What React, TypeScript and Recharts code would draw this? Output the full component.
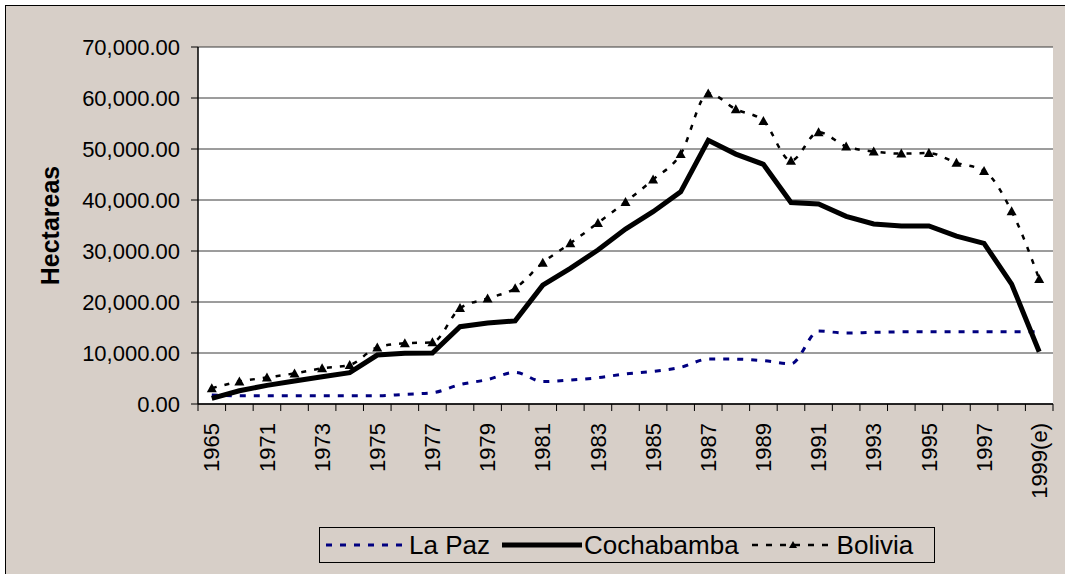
import { LineChart, Line, XAxis, YAxis, CartesianGrid } from "recharts"

const years = [
  "1965", "1970", "1971", "1972", "1973", "1974", "1975", "1976", "1977", "1978",
  "1979", "1980", "1981", "1982", "1983", "1984", "1985", "1986", "1987", "1988",
  "1989", "1990", "1991", "1992", "1993", "1994", "1995", "1996", "1997", "1998",
  "1999(e)",
]

const laPaz = [
  1760, 1600, 1600, 1600, 1600, 1600, 1600, 1900, 2200, 3800,
  4800, 6200, 4400, 4700, 5150, 5900, 6400, 7200, 8800, 8800,
  8500, 7900, 14300, 13900, 14050, 14150, 14150, 14150, 14150, 14150,
  14150,
]

const cochabamba = [
  1100, 2600, 3650, 4500, 5350, 6150, 9600, 9950, 10000, 15150,
  15900, 16300, 23300, 26600, 30200, 34300, 37700, 41600, 51700, 49000,
  47000, 39500, 39200, 36800, 35300, 34900, 34900, 32900, 31500, 23500,
  10250,
]

const bolivia = [
  3100, 4400, 5200, 6000, 7000, 7650, 11100, 11900, 12100, 18800,
  20700, 22700, 27700, 31500, 35500, 39600, 44000, 49000, 60900, 57800,
  55500, 47700, 53300, 50500, 49500, 49100, 49200, 47300, 45700, 37800,
  24500,
]

const yTicks = [0, 10000, 20000, 30000, 40000, 50000, 60000, 70000]

const chartData = years.map((year, i) => ({
  year,
  laPaz: laPaz[i],
  cochabamba: cochabamba[i],
  bolivia: bolivia[i],
}))

const FONT = '"Liberation Sans", Arial, Helvetica, sans-serif'
const BG = "#d7cfc8"
const W = 1065
const H = 574
const MARGIN = { top: 47, right: 12, bottom: 70, left: 48 }
const Y_AXIS_W = 150
const X_AXIS_H = 100
const PLOT_W = W - MARGIN.left - Y_AXIS_W - MARGIN.right
// half a category step, ticks sit between categories like in Excel
const HALF = PLOT_W / years.length / 2

const formatValue = (v: number) =>
  v.toLocaleString("en-US", { minimumFractionDigits: 2, maximumFractionDigits: 2 })

function YearTick(props: any) {
  const { x, y, payload, index } = props
  const last = index === years.length - 1
  const ty = y + 19
  return (
    <g>
      <line x1={x - HALF} x2={x - HALF} y1={y} y2={y + 7} stroke="#000" />
      {last && <line x1={x + HALF} x2={x + HALF} y1={y} y2={y + 7} stroke="#000" />}
      {index % 2 === 0 && (
        <text
          x={x}
          y={ty}
          transform={`rotate(-90, ${x}, ${ty})`}
          textAnchor="end"
          dy="0.35em"
          fontSize={22}
          fontFamily={FONT}
          fill="#000"
        >
          {payload.value}
        </text>
      )}
    </g>
  )
}

function TriangleDot(props: any) {
  const { cx, cy } = props
  if (cx == null || cy == null) return null
  return <path d={`M${cx},${cy - 5} L${cx + 5},${cy + 4} L${cx - 5},${cy + 4} Z`} fill="#000" stroke="none" />
}

function YTitle(props: any) {
  const vb = props.viewBox || { x: 48, y: 47, height: 357 }
  const x = vb.x + 2
  const y = vb.y + vb.height / 2
  return (
    <text
      x={x}
      y={y}
      transform={`rotate(-90, ${x}, ${y})`}
      textAnchor="middle"
      dy="0.35em"
      fontSize={25}
      fontWeight="bold"
      fontFamily={FONT}
      fill="#000"
    >
      Hectareas
    </text>
  )
}

function LegendBox() {
  const item = { display: "flex", alignItems: "center" } as const
  return (
    <div
      style={{
        position: "absolute",
        left: 319,
        top: 527,
        width: 609,
        height: 34,
        border: "1px solid #000",
        background: BG,
        display: "flex",
        alignItems: "center",
        paddingLeft: 5,
        fontFamily: FONT,
        fontSize: 26,
        color: "#000",
        boxSizing: "content-box",
      }}
    >
      <div style={item}>
        <svg width={80} height={20}>
          <line x1={1} x2={80} y1={10} y2={10} stroke="#000080" strokeWidth={3} strokeDasharray="6 8" />
        </svg>
        <span style={{ marginLeft: 4 }}>La Paz</span>
      </div>
      <div style={{ ...item, marginLeft: 12 }}>
        <svg width={80} height={20}>
          <line x1={0} x2={80} y1={10} y2={10} stroke="#000" strokeWidth={5} />
        </svg>
        <span style={{ marginLeft: 2 }}>Cochabamba</span>
      </div>
      <div style={{ ...item, marginLeft: 12 }}>
        <svg width={84} height={20}>
          <line x1={1} x2={84} y1={10} y2={10} stroke="#000" strokeWidth={2.5} strokeDasharray="6 8" />
          <path d="M42,6 L46,13 L38,13 Z" fill="#000" />
        </svg>
        <span style={{ marginLeft: 2 }}>Bolivia</span>
      </div>
    </div>
  )
}

export default function App() {
  return (
    <div style={{ position: "absolute", left: 0, top: 0, width: W, height: H, background: "#fff", overflow: "hidden" }}>
      <div
        style={{
          position: "absolute",
          left: 5,
          top: 5,
          width: W,
          height: H,
          background: BG,
          borderLeft: "1px solid #000",
          borderTop: "1px solid #000",
        }}
      />
      <div style={{ position: "absolute", left: 0, top: 0 }}>
        <LineChart width={W} height={H} data={chartData} margin={MARGIN}>
          <CartesianGrid vertical={false} stroke="#3a3a3a" fill="#fff" fillOpacity={1} />
          <XAxis
            dataKey="year"
            height={X_AXIS_H}
            interval={0}
            tickLine={false}
            tickSize={0}
            tickMargin={0}
            padding={{ left: HALF, right: HALF }}
            axisLine={{ stroke: "#000", strokeWidth: 1.5 }}
            tick={<YearTick />}
          />
          <YAxis
            width={Y_AXIS_W}
            domain={[0, 70000]}
            ticks={yTicks}
            interval={0}
            tickFormatter={formatValue}
            tickSize={7}
            tickMargin={11}
            tickLine={{ stroke: "#000" }}
            axisLine={{ stroke: "#000", strokeWidth: 1.5 }}
            tick={{ fontSize: 22, fontFamily: FONT, fill: "#000" }}
            label={{ content: <YTitle /> }}
          />
          <YAxis
            yAxisId="frame"
            orientation="right"
            width={0}
            tick={false}
            tickLine={false}
            axisLine={{ stroke: "#808080" }}
          />
          <Line
            dataKey="laPaz"
            name="La Paz"
            type="monotone"
            stroke="#000080"
            strokeWidth={3}
            strokeDasharray="6 8"
            dot={false}
            isAnimationActive={false}
          />
          <Line
            dataKey="cochabamba"
            name="Cochabamba"
            type="linear"
            stroke="#000"
            strokeWidth={5}
            dot={false}
            isAnimationActive={false}
          />
          <Line
            dataKey="bolivia"
            name="Bolivia"
            type="monotone"
            stroke="#000"
            strokeWidth={2.5}
            strokeDasharray="5 8"
            dot={<TriangleDot />}
            isAnimationActive={false}
          />
        </LineChart>
      </div>
      <LegendBox />
    </div>
  )
}
